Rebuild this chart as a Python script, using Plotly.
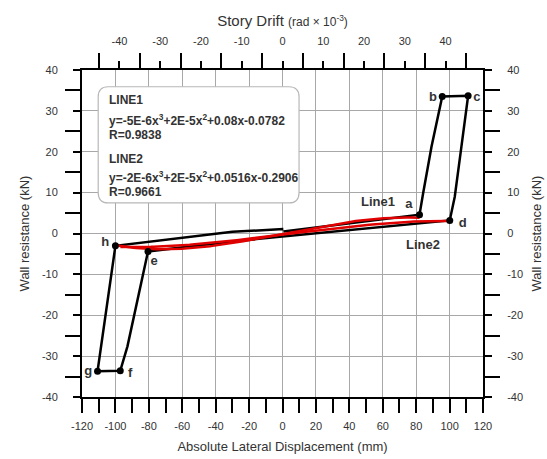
import numpy as np
import plotly.graph_objects as go

# Hysteresis loop of the wall: lateral displacement (mm) vs. wall resistance (kN)
loop_disp = [0.5, 82.0, 84.2, 89.2, 95.6, 111.1, 107.1, 103.1, 100.1,
             -31.4, -80.5, -85.2, -92.8, -97.1, -110.7, -100.0, -30.0, 0.5]
loop_force = [0.5, 4.6, 9.9, 21.3, 33.5, 33.7, 21.3, 9.0, 3.2,
              -2.0, -4.4, -13.0, -27.6, -33.6, -33.7, -3.0, 0.4, 1.1]

# Characteristic points of the loop
point_names = ["a", "b", "c", "d", "e", "f", "g", "h"]
point_disp = [82.0, 95.6, 111.1, 100.1, -80.5, -97.1, -110.7, -100.0]
point_force = [4.6, 33.5, 33.7, 3.2, -4.4, -33.6, -33.7, -3.0]
label_disp = [75.6, 90.0, 116.3, 107.9, -76.8, -91.2, -116.3, -106.1]
label_force = [7.0, 33.2, 33.2, 2.4, -6.9, -34.3, -33.8, -2.3]

# Cubic fits (highest order first) and their correlation
line1_coef = [-5e-6, 2e-5, 0.08, -0.0782]
line1_r = 0.9838
line1_span = [-100.0, 82.0]
line2_coef = [-2e-6, 2e-5, 0.0516, -0.2906]
line2_r = 0.9661
line2_span = [-97.0, 100.1]

# Tick positions and labels
disp_ticks = [-120, -100, -80, -60, -40, -20, 0, 20, 40, 60, 80, 100, 120]
disp_labels = ["-120", "-100", "-80", "-60", "-40", "-20", "0", "20", "40", "60", "80", "100", "120"]
force_ticks = [-40, -30, -20, -10, 0, 10, 20, 30, 40]
force_labels = ["-40", "-30", "-20", "-10", "0", "10", "20", "30", "40"]
drift_ticks = [-40, -30, -20, -10, 0, 10, 20, 30, 40]
drift_labels = ["-40", "-30", "-20", "-10", "0", "10", "20", "30", "40"]

# Story height (mm) used to convert displacement to drift (rad x 10^-3)
story_height = 2440.0
disp_range = [-120, 120]
force_range = [-40, 40]
drift_range = [d / story_height * 1000 for d in disp_range]

FONT = "Liberation Sans, Arial, sans-serif"
TXT = "#333333"

fig = go.Figure()

fig.add_trace(go.Scatter(x=loop_disp, y=loop_force, mode="lines",
                         line=dict(color="black", width=2.5),
                         hoverinfo="skip", showlegend=False))

for coef, span in [(line1_coef, line1_span), (line2_coef, line2_span)]:
    xs = np.linspace(span[0], span[1], 120)
    ys = np.polyval(coef, xs)
    fig.add_trace(go.Scatter(x=xs, y=ys, mode="lines",
                             line=dict(color="#e00000", width=2.5),
                             hoverinfo="skip", showlegend=False))

fig.add_trace(go.Scatter(x=point_disp, y=point_force, mode="markers",
                         marker=dict(color="black", size=7),
                         hoverinfo="skip", showlegend=False))

fig.add_trace(go.Scatter(x=label_disp, y=label_force, mode="text",
                         text=[f"<b>{n}</b>" for n in point_names],
                         textfont=dict(family=FONT, size=13, color=TXT),
                         hoverinfo="skip", showlegend=False))

# helper traces so the top and right axes are drawn
fig.add_trace(go.Scatter(x=[None], y=[None], xaxis="x2", yaxis="y",
                         mode="markers", hoverinfo="skip", showlegend=False))
fig.add_trace(go.Scatter(x=[None], y=[None], xaxis="x", yaxis="y2",
                         mode="markers", hoverinfo="skip", showlegend=False))

# Rounded box holding the fit equations
bx0, bx1, by0, by1 = -110.3, 9.9, 7.5, 35.9
rx, ry = 6.0, 2.5
box_path = (f"M {bx0+rx},{by1} L {bx1-rx},{by1} Q {bx1},{by1} {bx1},{by1-ry} "
            f"L {bx1},{by0+ry} Q {bx1},{by0} {bx1-rx},{by0} "
            f"L {bx0+rx},{by0} Q {bx0},{by0} {bx0},{by0+ry} "
            f"L {bx0},{by1-ry} Q {bx0},{by1} {bx0+rx},{by1} Z")
fig.add_shape(type="path", path=box_path, xref="x", yref="y",
              fillcolor="white", line=dict(color="#b8b8b8", width=1.2), layer="above")


def fmt_eq(coef):
    a, b, c, d = coef

    def sci(v):
        m, e = f"{v:.0E}".split("E")
        return f"{m}E{int(e)}"
    return (f"y={sci(a)}x<sup>3</sup>+{sci(b)}x<sup>2</sup>"
            f"{c:+g}x{d:+g}")


eq_lines = [
    ("LINE1", 32.6), (fmt_eq(line1_coef), 27.8), (f"R={line1_r}", 24.2),
    ("LINE2", 18.3), (fmt_eq(line2_coef), 13.8), (f"R={line2_r}", 10.2),
]
for txt, yy in eq_lines:
    fig.add_annotation(x=-104.9, y=yy, xref="x", yref="y", text=f"<b>{txt}</b>",
                       showarrow=False, xanchor="left", yanchor="middle",
                       font=dict(family=FONT, size=12, color=TXT))

fig.add_annotation(x=57.1, y=7.75, xref="x", yref="y", text="<b>Line1</b>",
                   showarrow=False, font=dict(family=FONT, size=13, color=TXT))
fig.add_annotation(x=84.0, y=-2.76, xref="x", yref="y", text="<b>Line2</b>",
                   showarrow=False, font=dict(family=FONT, size=13, color=TXT))

axis_common = dict(showline=True, linecolor="black", linewidth=2,
                   ticks="outside", tickcolor="black", tickwidth=2,
                   zeroline=False, automargin=False, tickmode="array",
                   tickfont=dict(family=FONT, size=11, color=TXT))

minor_odd = dict(dtick=10, tick0=5, ticklen=15, tickwidth=2,
                 tickcolor="black", ticks="outside", showgrid=False)

fig.update_layout(
    width=547, height=459,
    margin=dict(l=82, r=64, t=70, b=62),
    paper_bgcolor="white", plot_bgcolor="white",
    showlegend=False,
    xaxis=dict(range=disp_range, tickvals=disp_ticks, ticktext=disp_labels, ticklen=14,
               showgrid=True, gridcolor="#a8a8a8", gridwidth=1.2,
               minor=dict(dtick=10, tick0=0, ticklen=14, tickwidth=2,
                          tickcolor="black", ticks="outside", showgrid=False),
               ticklabelstandoff=4, anchor="y",
               title=dict(text="Absolute Lateral Displacement (mm)", standoff=11,
                          font=dict(family=FONT, size=13, color=TXT)),
               **axis_common),
    xaxis2=dict(range=drift_range, overlaying="x", side="top", anchor="y",
                tickvals=drift_ticks, ticktext=drift_labels, ticklen=7, showgrid=False,
                minor=minor_odd, ticklabelstandoff=12,
                title=dict(text="Story Drift <span style='font-size:12px'>(rad × 10<sup>-3</sup>)</span>",
                           standoff=4, font=dict(family=FONT, size=15, color=TXT)),
                **axis_common),
    yaxis=dict(range=force_range, tickvals=force_ticks, ticktext=force_labels, ticklen=7,
               showgrid=True, gridcolor="#a8a8a8", gridwidth=1.2,
               minor=minor_odd, ticklabelstandoff=13, anchor="x",
               title=dict(text="Wall resistance (kN)", standoff=9,
                          font=dict(family=FONT, size=13, color=TXT)),
               **axis_common),
    yaxis2=dict(range=force_range, overlaying="y", side="right", anchor="x",
                tickvals=force_ticks, ticktext=force_labels, ticklen=7, showgrid=False,
                minor=minor_odd, ticklabelstandoff=13,
                title=dict(text="Wall resistance (kN)", standoff=10,
                           font=dict(family=FONT, size=13, color=TXT)),
                **axis_common),
)

fig.write_html("out.html")
